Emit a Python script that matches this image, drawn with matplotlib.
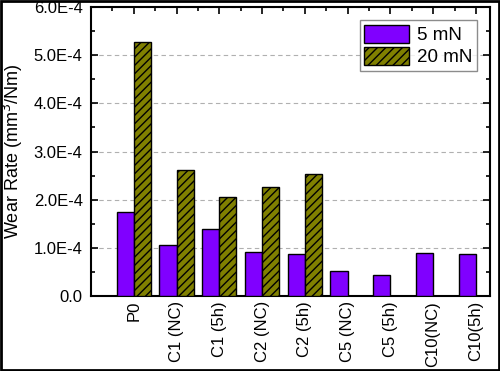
import matplotlib
matplotlib.use("Agg")
import matplotlib.pyplot as plt
import numpy as np
from matplotlib.patches import Rectangle
from matplotlib.ticker import MultipleLocator, FuncFormatter

categories = ["P0", "C1 (NC)", "C1 (5h)", "C2 (NC)", "C2 (5h)", "C5 (NC)", "C5 (5h)", "C10(NC)", "C10(5h)"]
wear_5mN = [1.74e-4, 1.05e-4, 1.39e-4, 0.91e-4, 0.88e-4, 0.52e-4, 0.44e-4, 0.90e-4, 0.88e-4]
wear_20mN = [5.27e-4, 2.62e-4, 2.05e-4, 2.26e-4, 2.54e-4, np.nan, np.nan, np.nan, np.nan]

plt.rcParams['font.family'] = ['Liberation Sans', 'DejaVu Sans']
plt.rcParams['hatch.linewidth'] = 1.0

fig = plt.figure(figsize=(5.0, 3.71), dpi=100)
ax = fig.add_axes([0.182, 0.202, 0.798, 0.779])

x = np.arange(len(categories))
w = 0.4
ax.bar(x - w/2, wear_5mN, w, color="#8000FF", edgecolor="black", linewidth=1.0, label="5 mN", zorder=3)
ax.bar(x + w/2, wear_20mN, w, color="#808000", edgecolor="black", hatch="////", linewidth=1.0, label="20 mN", zorder=3)

ax.set_xlim(-1, 8.33)
ax.set_ylim(0, 6e-4)
ax.set_xticks(x)
ax.set_xticklabels(categories, rotation=90, fontsize=12)
ax.xaxis.set_minor_locator(MultipleLocator(0.5))
ax.yaxis.set_major_locator(MultipleLocator(1e-4))
ax.yaxis.set_minor_locator(MultipleLocator(0.5e-4))
ax.yaxis.set_major_formatter(FuncFormatter(lambda v, p: "0.0" if abs(v) < 1e-12 else f"{v*1e4:.1f}E-4"))
ax.tick_params(axis='y', which='both', direction='in', right=True, labelsize=12, width=1.2, pad=6)
ax.tick_params(axis='y', which='major', length=5)
ax.tick_params(axis='y', which='minor', length=3)
ax.tick_params(axis='x', which='both', direction='in', top=True, bottom=False, width=1.2)
ax.tick_params(axis='x', which='major', length=5)
ax.tick_params(axis='x', which='minor', length=3)
ax.yaxis.grid(True, linestyle=(0, (4, 3)), color="#b0b0b0", linewidth=0.8, zorder=0)
for s in ax.spines.values():
    s.set_linewidth(1.5)

ax.set_ylabel("Wear Rate (mm$^3$/Nm)", fontsize=13)
ax.yaxis.set_label_coords(-0.166, 0.5)

leg = ax.legend(loc="upper right", fontsize=13.5, frameon=True, fancybox=False,
                edgecolor="#707070", handlelength=2.4, handleheight=1.1,
                borderaxespad=0.7, labelspacing=0.15, handletextpad=0.4, borderpad=0.25)
leg.get_frame().set_linewidth(1.0)

fig.patches.append(Rectangle((0.002, 0.003), 0.996, 0.994, transform=fig.transFigure,
                             fill=False, edgecolor="black", linewidth=2))

fig.savefig("out.png", dpi=100)
